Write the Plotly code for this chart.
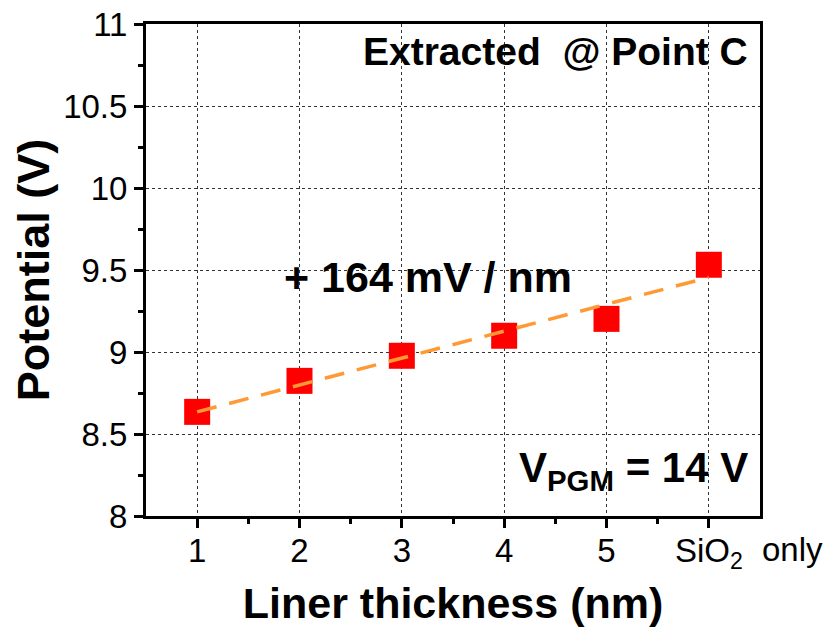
import plotly.graph_objects as go

# Data
x_pos = [1, 2, 3, 4, 5, 6]
tick_labels = ["1", "2", "3", "4", "5", "SiO<sub>2</sub>"]
potential = [8.635, 8.824, 8.977, 9.099, 9.202, 9.532]
fit_x = [1, 6]
fit_y = [8.635, 9.455]

FONT = "Liberation Sans, Arial, sans-serif"

fig = go.Figure()
fig.add_trace(go.Scatter(
    x=x_pos, y=potential, mode="markers",
    marker=dict(symbol="square", size=26, color="#FF0000", line=dict(width=0)),
    showlegend=False,
))
fig.add_trace(go.Scatter(
    x=fit_x, y=fit_y, mode="lines",
    line=dict(color="rgb(255,153,51)", width=3.5, dash="20px,13px"),
    showlegend=False,
))

fig.update_layout(
    width=826, height=629,
    margin=dict(l=146, r=66, t=24, b=113, autoexpand=False),
    paper_bgcolor="white", plot_bgcolor="white",
    font=dict(family=FONT, color="black"),
    xaxis=dict(
        range=[0.5, 6.5], tickvals=x_pos, ticktext=tick_labels,
        tickfont=dict(size=33, family=FONT),
        showline=True, linewidth=3, linecolor="black", mirror=True,
        ticks="outside", ticklen=9, tickwidth=2.5, tickcolor="black",
        ticklabelstandoff=-6,
        showgrid=True, gridcolor="#333", griddash="dot", gridwidth=1,
        zeroline=False, automargin=False,
        minor=dict(tickvals=[1.5, 2.5, 3.5, 4.5, 5.5], ticks="outside",
                   ticklen=5, tickwidth=2.5, tickcolor="black", showgrid=False),
        title=dict(text="<b>Liner thickness (nm)</b>", font=dict(size=43, family=FONT),
                   standoff=16),
    ),
    yaxis=dict(
        range=[8, 11], tickvals=[8, 8.5, 9, 9.5, 10, 10.5, 11],
        ticktext=["8", "8.5", "9", "9.5", "10", "10.5", "11"],
        tickfont=dict(size=33, family=FONT),
        showline=True, linewidth=3, linecolor="black", mirror=True,
        ticks="outside", ticklen=9, tickwidth=2.5, tickcolor="black",
        showgrid=True, gridcolor="#333", griddash="dot", gridwidth=1,
        zeroline=False, automargin=False,
        minor=dict(dtick=0.25, ticks="outside", ticklen=5, tickwidth=2.5,
                   tickcolor="black", showgrid=False),
        title=dict(text="<b>Potential (V)</b>", font=dict(size=45, family=FONT),
                   standoff=0),
    ),
)

fig.add_annotation(x=6.4, y=10.83, xref="x", yref="y", xanchor="right", yanchor="middle",
                   text="<b>Extracted  @ Point C</b>", showarrow=False,
                   font=dict(size=39, family=FONT, color="black"))
fig.add_annotation(x=3.26, y=9.457, xref="x", yref="y", xanchor="center", yanchor="middle",
                   text="<b>+ 164 mV / nm</b>", showarrow=False,
                   font=dict(size=43, family=FONT, color="black"))
fig.add_annotation(x=6.4, y=8.28, xref="x", yref="y", xanchor="right", yanchor="middle",
                   text="<b>V<sub>PGM</sub> = 14 V</b>", showarrow=False,
                   font=dict(size=42, family=FONT, color="black"))
fig.add_annotation(x=1.0, y=-0.068, xref="paper", yref="paper", xanchor="left", yanchor="middle",
                   text="only", showarrow=False,
                   font=dict(size=33, family=FONT, color="black"))

fig.write_html("out.html", config={"displayModeBar": False},
               post_script="document.body.style.margin='0';")
